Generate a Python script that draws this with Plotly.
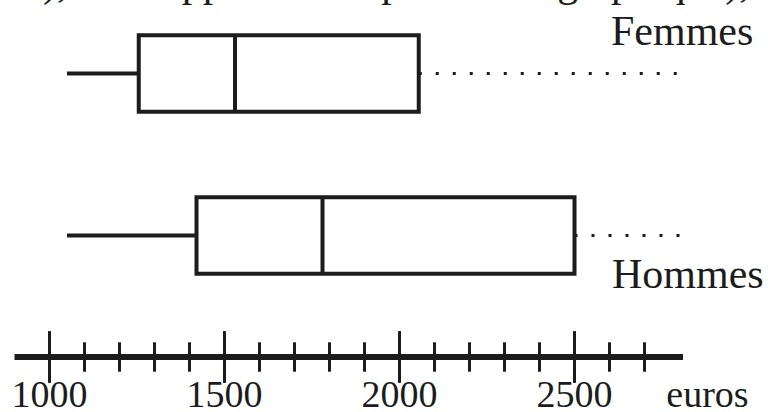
import plotly.graph_objects as go

# ---- data ----
groups = ["Femmes", "Hommes"]
minimum = [1050, 1050]
q1 = [1255, 1420]
median = [1530, 1780]
q3 = [2055, 2500]
dotted_end = [2800, 2800]          # upper part not known: dotted line

major_ticks = [1000, 1500, 2000, 2500]
minor_ticks = [1100, 1200, 1300, 1400, 1600, 1700, 1800, 1900,
               2100, 2200, 2300, 2400, 2600, 2700]
tick_labels = ["1000", "1500", "2000", "2500"]
unit_label = "euros"
axis_extent = [900, 2810]
caption = "(salaires), ils n\u2019apparaissent pas sur ce graphique),"

# ---- layout constants ----
INK = "#1c1c1c"
FONT = "Liberation Serif"
group_pos = [1.75, 0.75]
unit_pos = 2880
PLOT_H = 368          # plot-area height in px
UNIT = 162            # px per y unit

fig = go.Figure()

for g, pos, lo, a, m, b in zip(groups, group_pos, minimum, q1, median, q3):
    fig.add_trace(go.Box(
        y=[pos], q1=[a], median=[m], q3=[b], lowerfence=[lo], upperfence=[b],
        orientation="h", width=0.472, whiskerwidth=0, boxpoints=False,
        fillcolor="white", line=dict(color=INK, width=4), name=g,
        hoverinfo="skip",
    ))

for pos, b, e in zip(group_pos, q3, dotted_end):
    fig.add_trace(go.Scatter(
        x=[b, e], y=[pos, pos], mode="lines",
        line=dict(color=INK, width=3.2, dash="3px,14px"), hoverinfo="skip",
    ))

# graduated axis
fig.add_trace(go.Scatter(
    x=axis_extent, y=[0, 0], mode="lines",
    line=dict(color=INK, width=6), hoverinfo="skip",
))
fig.add_trace(go.Scatter(
    x=minor_ticks, y=[0] * len(minor_ticks), mode="markers", cliponaxis=False,
    marker=dict(symbol="line-ns", size=21, line=dict(color=INK, width=3)),
    hoverinfo="skip",
))
fig.add_trace(go.Scatter(
    x=major_ticks, y=[0] * len(major_ticks), mode="markers", cliponaxis=False,
    marker=dict(symbol="line-ns", size=37, line=dict(color=INK, width=3)),
    hoverinfo="skip",
))

annotations = [
    dict(text=caption, xref="paper", yref="paper", x=752 / 768, y=1 + 17 / PLOT_H,
         xanchor="right", yanchor="middle", showarrow=False,
         font=dict(family=FONT, size=42, color=INK)),
    dict(text=groups[0], xref="paper", yref="paper", x=755 / 768, y=1 - 31 / PLOT_H,
         xanchor="right", yanchor="middle", showarrow=False,
         font=dict(family=FONT, size=42, color=INK)),
    dict(text=groups[1], xref="paper", yref="paper", x=766 / 768, y=1 - 274 / PLOT_H,
         xanchor="right", yanchor="middle", showarrow=False,
         font=dict(family=FONT, size=42, color=INK)),
]

fig.update_layout(
    width=768, height=412,
    margin=dict(l=0, r=0, t=0, b=412 - PLOT_H, autoexpand=False),
    paper_bgcolor="white", plot_bgcolor="white",
    showlegend=False,
    annotations=annotations,
    xaxis=dict(
        range=[1000 - 49.5 / 0.35, 1000 + 718.5 / 0.35],
        tickvals=major_ticks + [unit_pos], ticktext=tick_labels + [unit_label],
        ticks="", showline=False, showgrid=False, zeroline=False,
        automargin=False,
        tickfont=dict(family=FONT, size=38, color=INK), fixedrange=True,
    ),
    yaxis=dict(
        range=[-(PLOT_H - 357) / UNIT, 357 / UNIT], visible=False,
        fixedrange=True, automargin=False,
    ),
)

fig.write_html(
    "out.html",
    config={"displayModeBar": False, "staticPlot": True},
    post_script="document.body.style.margin='0';document.body.style.overflow='hidden';",
)
